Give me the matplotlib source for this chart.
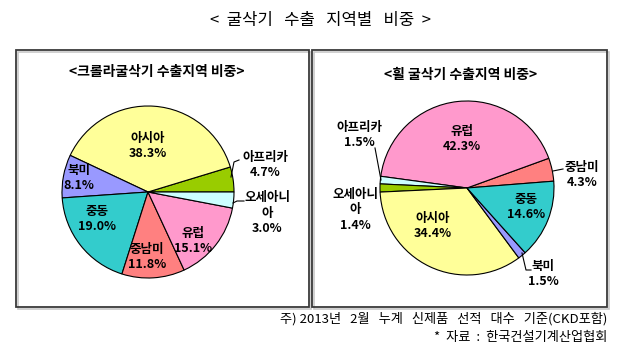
import matplotlib
matplotlib.use("Agg")
import matplotlib.pyplot as plt
from matplotlib.patches import Rectangle

plt.rcParams['font.family'] = ['Noto Sans CJK KR', 'DejaVu Sans']

W, H = 641, 350

# Export share by region (%), listed counter-clockwise from the start angle
crawler_regions = ['아프리카', '아시아', '북미', '중동', '중남미', '유럽', '오세아니아']
crawler_share = [4.7, 38.3, 8.1, 19.0, 11.8, 15.1, 3.0]

wheel_regions = ['중남미', '유럽', '오세아니아', '아프리카', '아시아', '북미', '중동']
wheel_share = [4.3, 42.3, 1.4, 1.5, 34.4, 1.5, 14.6]

region_colors = {
    '아프리카': '#99CC00',
    '아시아': '#FFFF99',
    '북미': '#9999FF',
    '중동': '#33CCCC',
    '중남미': '#FF8080',
    '유럽': '#FF99CC',
    '오세아니아': '#CCFFFF',
}

main_title = '<  굴삭기   수출   지역별   비중  >'
crawler_title = '<크롤라굴삭기 수출지역 비중>'
wheel_title = '<휠 굴삭기 수출지역 비중>'
note_lines = ['주) 2013년   2월   누계   신제품   선적   대수   기준(CKD포함)',
              '*  자료  :  한국건설기계산업협회']

display_name = {'오세아니아': '오세아니\n아'}

# label centres (pixels) and leader lines
crawler_label_pos = {
    '아시아': (148, 146), '북미': (79, 178), '중동': (97, 219),
    '중남미': (147, 257), '유럽': (193, 241),
    '아프리카': (265, 165), '오세아니아': (267, 213),
}
crawler_leaders = [
    [(231, 177), (234, 162), (239, 160)],
    [(233, 203), (237, 201), (244, 201)],
]
wheel_label_pos = {
    '유럽': (462, 139), '중남미': (582, 175), '중동': (526, 207),
    '아시아': (433, 226), '북미': (543, 274),
    '아프리카': (359, 135), '오세아니아': (355, 210),
}
wheel_leaders = [
    [(553, 171), (563, 169)],
    [(522, 253), (526, 270), (531, 270)],
    [(375, 148), (381, 180)],
]

fig = plt.figure(figsize=(W / 100, H / 100), dpi=100)
ax = fig.add_axes([0, 0, 1, 1])


def draw_pie(regions, shares, center, radius, start, label_pos, leaders):
    ax.pie(shares, colors=[region_colors[r] for r in regions],
           center=center, radius=radius, startangle=-start,
           counterclock=False,
           wedgeprops=dict(edgecolor='black', linewidth=0.8))
    for r, v in zip(regions, shares):
        x, y = label_pos[r]
        ax.text(x, y, f'{display_name.get(r, r)}\n{v:.1f}%',
                ha='center', va='center', fontsize=9, fontweight='bold',
                linespacing=1.25, color='black')
    for pts in leaders:
        xs, ys = zip(*pts)
        ax.plot(xs, ys, color='black', lw=0.8)


# panel frames
for x0, x1 in [(16, 309), (312, 607)]:
    ax.add_patch(Rectangle((x0 + 1.5, 50 + 1.5), x1 - x0, 257,
                           fill=False, edgecolor='#c8c8c8', lw=1.2))
    ax.add_patch(Rectangle((x0, 50), x1 - x0, 257,
                           fill=False, edgecolor='#3a3a3a', lw=1.3))

draw_pie(crawler_regions, crawler_share, (148, 192), 86, 0,
         crawler_label_pos, crawler_leaders)
draw_pie(wheel_regions, wheel_share, (467, 188), 87, 4.5,
         wheel_label_pos, wheel_leaders)

ax.set_xlim(0, W)
ax.set_ylim(H, 0)
ax.set_aspect('auto')
ax.axis('off')

ax.text(320, 20, main_title, ha='center', va='center', fontsize=12)
ax.text(157, 72, crawler_title, ha='center', va='center', fontsize=10,
        fontweight='bold')
ax.text(461, 75, wheel_title, ha='center', va='center', fontsize=10,
        fontweight='bold')
ax.text(607, 319, note_lines[0], ha='right', va='center', fontsize=9.5)
ax.text(607, 337, note_lines[1], ha='right', va='center', fontsize=9.5)

fig.savefig('out.png', dpi=100)
